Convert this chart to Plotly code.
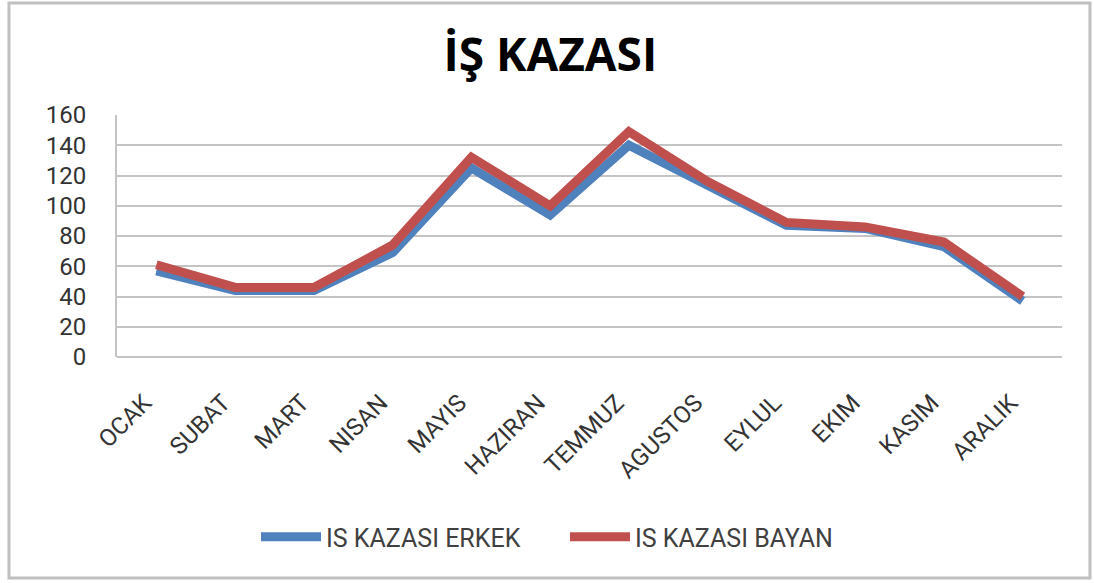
import plotly.graph_objects as go

aylar = ['OCAK', 'SUBAT', 'MART', 'NISAN', 'MAYIS', 'HAZIRAN',
         'TEMMUZ', 'AGUSTOS', 'EYLUL', 'EKIM', 'KASIM', 'ARALIK']
erkek = [57, 44, 44, 69, 125, 94, 140, 114, 87, 85, 73, 37]
bayan = [61, 46, 46, 74, 132, 100, 149, 116, 89, 86, 76, 40]
y_ticks = [0, 20, 40, 60, 80, 100, 120, 140, 160]

font_fam = "Liberation Sans Narrow, Roboto, Arial, sans-serif"

fig = go.Figure()
fig.add_trace(go.Scatter(x=aylar, y=erkek, mode='lines', name='IS KAZASI ERKEK',
                         line=dict(color='#4F81BD', width=9)))
fig.add_trace(go.Scatter(x=aylar, y=bayan, mode='lines', name='IS KAZASI BAYAN',
                         line=dict(color='#C0504D', width=9)))

fig.update_layout(
    width=1094, height=583,
    margin=dict(l=117, r=32, t=115, b=226),
    paper_bgcolor='white', plot_bgcolor='white',
    title=dict(text='<b>İŞ KAZASI</b>', x=0.503, xanchor='center',
               y=1 - 55 / 583, yanchor='middle',
               font=dict(family='Open Sans, Arial, sans-serif', size=46, color='black')),
    xaxis=dict(tickangle=-45, tickfont=dict(family=font_fam, size=24, color='#333333'),
               range=[-0.5, len(aylar) - 0.5],
               showgrid=False, showline=False, ticks='', ticklabelstandoff=26,
               ticklabelshift=-12, automargin=False),
    yaxis=dict(range=[0, 160], tickvals=y_ticks, showgrid=True, gridcolor='#c4c4c4',
               gridwidth=2, zeroline=True, zerolinecolor='#c4c4c4', zerolinewidth=2,
               showline=True, linecolor='#c4c4c4', linewidth=2,
               tickfont=dict(family=font_fam, size=24, color='#333333'),
               ticks='', ticklabelstandoff=24, automargin=False),
    legend=dict(orientation='h', x=(256 - 117) / 945, xanchor='left', y=-0.744,
                yanchor='middle',
                font=dict(family=font_fam, size=25, color='#404040'),
                itemwidth=60, entrywidth=234, entrywidthmode='pixels'),
    showlegend=True,
    shapes=[dict(type='rect', xref='paper', yref='paper',
                 x0=-0.1143, x1=1.0296, y0=-0.9132, y1=1.4628,
                 line=dict(color='#c0c0c0', width=3))],
)

fig.write_html("out.html", config={'displayModeBar': False},
               post_script="document.body.style.margin='0';")
